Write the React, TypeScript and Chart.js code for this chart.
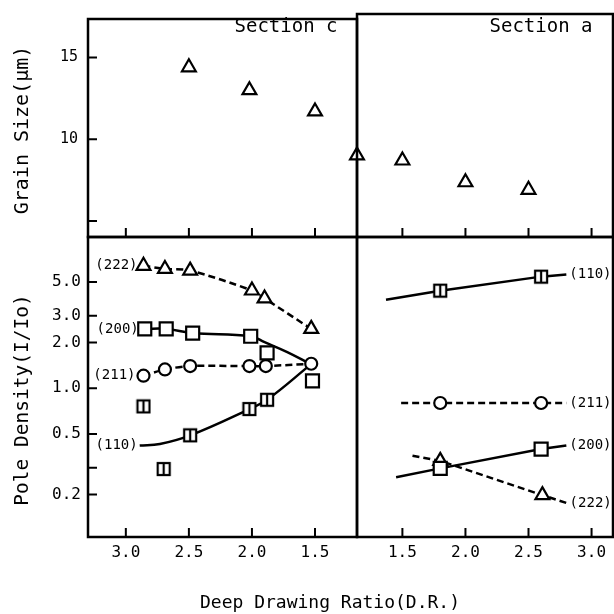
import React, { useEffect, useRef } from "react";
import { Chart, registerables } from "chart.js";
Chart.register(...registerables);

// ---------------- data ----------------
const xTickValues = [1.5, 2.0, 2.5, 3.0];
const xTickLabels = ["1.5", "2.0", "2.5", "3.0"];
const grainTicks = [5, 10, 15];
const grainTickLabels = ["", "10", "15"];
const poleTicks = [0.2, 0.3, 0.5, 1, 2, 3, 5];
const poleTickLabels = ["0.2", "", "0.5", "1.0", "2.0", "3.0", "5.0"];

// grain size (top panels)
const grainCX = [2.5, 2.02, 1.5];
const grainCY = [14.4, 13.0, 11.7];
const grainAX = [1.14, 1.5, 2.0, 2.5];
const grainAY = [8.9, 8.6, 7.3, 6.85];

// pole density, Section c
const c222X = [2.86, 2.69, 2.49, 2.0, 1.9, 1.53];
const c222Y = [6.4, 6.1, 5.95, 4.4, 3.9, 2.46];
const c200X = [2.85, 2.68, 2.47, 2.01, 1.88, 1.52];
const c200Y = [2.46, 2.46, 2.31, 2.2, 1.71, 1.12];
const c200LineX = [2.85, 2.68, 2.47, 2.01, 1.9, 1.72, 1.54];
const c200LineY = [2.46, 2.46, 2.31, 2.2, 2.01, 1.73, 1.45];
const c211X = [2.86, 2.69, 2.49, 2.02, 1.89, 1.53];
const c211Y = [1.21, 1.33, 1.4, 1.4, 1.4, 1.45];
const c110X = [2.86, 2.7, 2.49, 2.02, 1.88];
const c110Y = [0.76, 0.294, 0.49, 0.73, 0.84];
const c110LineX = [2.89, 2.73, 2.49, 2.02, 1.88, 1.54];
const c110LineY = [0.42, 0.43, 0.49, 0.73, 0.84, 1.42];

// pole density, Section a
const a110X = [1.8, 2.6];
const a110Y = [4.39, 5.43];
const a110LineX = [1.37, 1.8, 2.6, 2.8];
const a110LineY = [3.82, 4.39, 5.43, 5.6];
const a211X = [1.8, 2.6];
const a211Y = [0.8, 0.8];
const a211LineX = [1.49, 1.8, 2.6, 2.8];
const a211LineY = [0.8, 0.8, 0.8, 0.8];
const a200X = [1.8, 2.6];
const a200Y = [0.297, 0.398];
const a200LineX = [1.45, 1.8, 2.6, 2.8];
const a200LineY = [0.26, 0.297, 0.398, 0.42];
const a222X = [1.8, 2.61];
const a222Y = [0.333, 0.198];
const a222LineX = [1.58, 1.8, 2.61, 2.81];
const a222LineY = [0.36, 0.333, 0.198, 0.175];

const leftLabelTexts = ["(222)", "(200)", "(211)", "(110)"];
const rightLabelTexts = ["(110)", "(211)", "(200)", "(222)"];

// ---------------- styling / layout ----------------
const FONT = '"DejaVu Sans Mono", "Liberation Mono", monospace';
const W = 614;
const CW = 660; // canvas width (wider than the page; overflow hidden)
const PLOT_LEFT = 88;
const PLOT_MID = 357;
const PLOT_RIGHT = 613;
const PLOT_TOP = 14;
const PLOT_SPLIT = 237;
const PLOT_BOTTOM = 537;

const pts = (xs: number[], ys: number[]) => xs.map((x, i) => ({ x, y: ys[i] }));

function barSquare(): HTMLCanvasElement {
  const c = document.createElement("canvas");
  c.width = 16;
  c.height = 16;
  const g = c.getContext("2d")!;
  g.fillStyle = "#fff";
  g.fillRect(2, 2, 12, 12);
  g.strokeStyle = "#000";
  g.lineWidth = 2.2;
  g.strokeRect(2, 2, 12, 12);
  g.beginPath();
  g.moveTo(8, 2);
  g.lineTo(8, 14);
  g.stroke();
  return c;
}

function markers(xs: number[], ys: number[], style: any, radius: number, extra: any = {}) {
  return {
    data: pts(xs, ys),
    showLine: false,
    pointStyle: style,
    pointRadius: radius,
    pointHoverRadius: radius,
    pointBorderWidth: 2.2,
    pointBorderColor: "#000",
    pointBackgroundColor: "#fff",
    borderColor: "#000",
    order: 0,
    ...extra,
  };
}

function line(xs: number[], ys: number[], dashed: boolean, tension: number) {
  return {
    data: pts(xs, ys),
    showLine: true,
    borderColor: "#000",
    borderWidth: 2.5,
    borderDash: dashed ? [7, 4] : [],
    pointRadius: 0,
    pointHoverRadius: 0,
    tension,
    fill: false,
    order: 1,
  };
}

type Txt = {
  text: string;
  x: number;
  y: number;
  align: CanvasTextAlign;
  size: number;
  rotate?: boolean;
  data?: boolean;
  dx?: number;
};

function decorPlugin(tickX: boolean, tickY: boolean, texts: Txt[]) {
  return {
    id: "decor",
    afterDatasetsDraw(chart: any) {
      const ctx = chart.ctx;
      const a = chart.chartArea;
      ctx.save();
      ctx.strokeStyle = "#000";
      ctx.lineWidth = 2.5;
      ctx.strokeRect(a.left, a.top, a.right - a.left, a.bottom - a.top);
      ctx.lineWidth = 2;
      ctx.beginPath();
      if (tickX) {
        const s = chart.scales.x;
        for (const t of s.ticks) {
          const p = s.getPixelForValue(t.value);
          ctx.moveTo(p, a.bottom);
          ctx.lineTo(p, a.bottom - 9);
        }
      }
      if (tickY) {
        const s = chart.scales.y;
        for (const t of s.ticks) {
          const p = s.getPixelForValue(t.value);
          ctx.moveTo(a.left, p);
          ctx.lineTo(a.left + 9, p);
        }
      }
      ctx.stroke();
      ctx.fillStyle = "#000";
      ctx.textBaseline = "middle";
      for (const it of texts) {
        let x = it.x;
        let y = it.y;
        if (it.data) {
          x = chart.scales.x.getPixelForValue(it.x) + (it.dx || 0);
          y = chart.scales.y.getPixelForValue(it.y);
        }
        ctx.font = `${it.size}px ${FONT}`;
        ctx.textAlign = it.align;
        if (it.rotate) {
          ctx.save();
          ctx.translate(x, y);
          ctx.rotate(-Math.PI / 2);
          ctx.fillText(it.text, 0, 0);
          ctx.restore();
        } else {
          ctx.fillText(it.text, x, y);
        }
      }
      ctx.restore();
    },
  };
}

type PanelCfg = {
  left: boolean;
  top: boolean;
  datasets: any[];
  texts: Txt[];
};

function buildConfig(p: PanelCfg): any {
  const padLeft = p.left ? 0 : PLOT_MID;
  const padRight = p.left ? CW - PLOT_MID : CW - PLOT_RIGHT;
  const padTop = p.top ? PLOT_TOP : PLOT_SPLIT;
  const padBottom = p.top ? W - PLOT_SPLIT : 0;
  const xMin = p.left ? 1.167 : 1.14;
  const xMax = p.left ? 3.3 : 3.17;
  const yWidth = p.left ? PLOT_LEFT : 0;
  return {
    type: "line",
    data: { datasets: p.datasets },
    plugins: [decorPlugin(true, p.left, p.texts)],
    options: {
      responsive: false,
      animation: false,
      events: [],
      layout: { padding: { left: padLeft, right: padRight, top: padTop, bottom: padBottom } },
      plugins: { legend: { display: false }, tooltip: { enabled: false } },
      scales: {
        x: {
          type: "linear",
          position: "bottom",
          min: xMin,
          max: xMax,
          reverse: p.left,
          grid: { display: false, drawTicks: false },
          border: { display: false },
          ticks: {
            display: !p.top,
            autoSkip: false,
            maxRotation: 0,
            padding: 6,
            color: "#000",
            font: { family: FONT, size: 16 },
            callback: (_v: any, i: number) => xTickLabels[i],
          },
          afterBuildTicks: (s: any) => {
            s.ticks = xTickValues.map((v) => ({ value: v }));
          },
          afterFit: (s: any) => {
            s.height = p.top ? 0 : W - PLOT_BOTTOM;
          },
        },
        y: p.top
          ? {
              type: "linear",
              display: p.left,
              min: 4.03,
              max: 17.35,
              grid: { display: false, drawTicks: false },
              border: { display: false },
              ticks: {
                display: p.left,
                padding: 10,
                color: "#000",
                font: { family: FONT, size: 15 },
                callback: (_v: any, i: number) => grainTickLabels[i],
              },
              afterBuildTicks: (s: any) => {
                s.ticks = grainTicks.map((v) => ({ value: v }));
              },
              afterFit: (s: any) => {
                s.width = yWidth;
              },
            }
          : {
              type: "logarithmic",
              display: p.left,
              min: 0.105,
              max: 9.9,
              grid: { display: false, drawTicks: false },
              border: { display: false },
              ticks: {
                display: p.left,
                padding: 7,
                color: "#000",
                font: { family: FONT, size: 16 },
                callback: (_v: any, i: number) => poleTickLabels[i],
              },
              afterBuildTicks: (s: any) => {
                s.ticks = poleTicks.map((v) => ({ value: v }));
              },
              afterFit: (s: any) => {
                s.width = yWidth;
              },
            },
      },
    },
  };
}

export default function App() {
  const r1 = useRef<HTMLCanvasElement>(null);
  const r2 = useRef<HTMLCanvasElement>(null);
  const r3 = useRef<HTMLCanvasElement>(null);
  const r4 = useRef<HTMLCanvasElement>(null);

  useEffect(() => {
    const bar = barSquare();
    const LBL = 14;

    const tl = buildConfig({
      left: true,
      top: true,
      datasets: [markers(grainCX, grainCY, "triangle", 8)],
      texts: [
        { text: "Section c", x: 286, y: 27, align: "center", size: 19 },
        { text: "Grain Size(\u03bcm)", x: 23, y: 130, align: "center", size: 20, rotate: true },
      ],
    });
    const tr = buildConfig({
      left: false,
      top: true,
      datasets: [markers(grainAX, grainAY, "triangle", 8, { clip: false })],
      texts: [{ text: "Section a", x: 541, y: 27, align: "center", size: 19 }],
    });
    const bl = buildConfig({
      left: true,
      top: false,
      datasets: [
        markers(c222X, c222Y, "triangle", 8),
        markers(c200X, c200Y, "rect", 9.2),
        markers(c211X, c211Y, "circle", 6),
        markers(c110X, c110Y, bar, 8),
        line(c222X, c222Y, true, 0.3),
        line(c200LineX, c200LineY, false, 0.4),
        line(c211X, c211Y, true, 0.3),
        line(c110LineX, c110LineY, false, 0.4),
      ],
      texts: [
        { text: leftLabelTexts[0], x: c222X[0], y: c222Y[0], align: "right", size: LBL, data: true, dx: -6 },
        { text: leftLabelTexts[1], x: c200X[0], y: c200Y[0], align: "right", size: LBL, data: true, dx: -6 },
        { text: leftLabelTexts[2], x: c211X[0], y: c211Y[0], align: "right", size: LBL, data: true, dx: -8 },
        { text: leftLabelTexts[3], x: c110LineX[0], y: c110LineY[0], align: "right", size: LBL, data: true, dx: -2 },
        { text: "Pole Density(I/Io)", x: 23, y: 400, align: "center", size: 19.5, rotate: true },
        { text: "Deep Drawing Ratio(D.R.)", x: 330, y: 603, align: "center", size: 18 },
      ],
    });
    const br = buildConfig({
      left: false,
      top: false,
      datasets: [
        markers(a110X, a110Y, bar, 8),
        markers(a211X, a211Y, "circle", 6),
        markers(a200X, a200Y, "rect", 9.2),
        markers(a222X, a222Y, "triangle", 8),
        line(a110LineX, a110LineY, false, 0),
        line(a211LineX, a211LineY, true, 0),
        line(a200LineX, a200LineY, false, 0),
        line(a222LineX, a222LineY, true, 0),
      ],
      texts: [
        { text: rightLabelTexts[0], x: a110LineX[3], y: a110LineY[3], align: "left", size: LBL, data: true, dx: 3 },
        { text: rightLabelTexts[1], x: a211LineX[3], y: a211LineY[3], align: "left", size: LBL, data: true, dx: 3 },
        { text: rightLabelTexts[2], x: a200LineX[3], y: a200LineY[3], align: "left", size: LBL, data: true, dx: 3 },
        { text: rightLabelTexts[3], x: a222LineX[3], y: a222LineY[3], align: "left", size: LBL, data: true, dx: 2 },
      ],
    });

    const charts = [
      new Chart(r1.current!, tl),
      new Chart(r2.current!, tr),
      new Chart(r3.current!, bl),
      new Chart(r4.current!, br),
    ];
    return () => charts.forEach((c) => c.destroy());
  }, []);

  const cs: React.CSSProperties = { position: "absolute", left: 0, top: 0, width: CW, height: W };
  return (
    <div
      style={{
        position: "absolute",
        left: 0,
        top: 0,
        width: W,
        height: W,
        background: "#fff",
        overflow: "hidden",
      }}
    >
      <canvas ref={r1} width={CW} height={W} style={cs} />
      <canvas ref={r2} width={CW} height={W} style={cs} />
      <canvas ref={r3} width={CW} height={W} style={cs} />
      <canvas ref={r4} width={CW} height={W} style={cs} />
    </div>
  );
}
